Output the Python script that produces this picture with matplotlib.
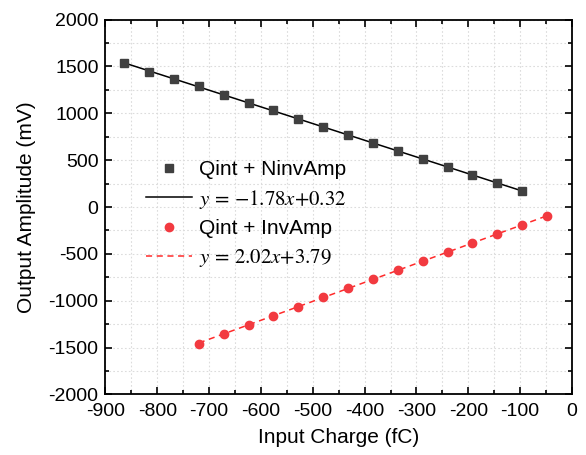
import numpy as np
import matplotlib
matplotlib.use('Agg')
import matplotlib.pyplot as plt
from matplotlib.ticker import MultipleLocator

# data
x_ninv = [-864, -816, -768, -720, -672, -624, -576, -528, -480, -432, -384, -336, -288, -240, -192, -144, -96]
y_ninv = [1533, 1445, 1364, 1287, 1196, 1115, 1030, 938, 851, 765, 680, 596, 511, 426, 341, 254, 172]
x_inv = [-720, -672, -624, -576, -528, -480, -432, -384, -336, -288, -240, -192, -144, -96, -48]
y_inv = [-1460, -1358, -1262, -1165, -1063, -965, -868, -771, -674, -578, -481, -384, -290, -196, -100]

fit_ninv = (-1.78, 0.32)
fit_inv = (2.02, 3.79)

plt.rcParams['font.family'] = ['Liberation Sans', 'DejaVu Sans']
plt.rcParams['mathtext.fontset'] = 'stix'
plt.rcParams['axes.unicode_minus'] = False

fig = plt.figure(figsize=(5.86, 4.55), dpi=100)
ax = fig.add_axes([0.180, 0.133, 0.796, 0.824])

xs = np.array([x_ninv[0], x_ninv[-1]])
ax.plot(x_ninv, y_ninv, 's', color='#404040', markersize=5.5, label='Qint + NinvAmp', zorder=3)
ax.plot(xs, fit_ninv[0] * xs + fit_ninv[1], '-', color='black', lw=1.1,
        label=r'$y\,=\,\mathrm{-1.78}x\mathrm{+0.32}$', zorder=2)
xs2 = np.array([x_inv[0], x_inv[-1]])
ax.plot(x_inv, y_inv, 'o', color='#f23a40', markersize=6, label='Qint + InvAmp', zorder=3)
ax.plot(xs2, fit_inv[0] * xs2 + fit_inv[1], '--', color='#ff2a2a', lw=1.1,
        dashes=(4, 3), label=r'$y\,=\,\mathrm{2.02}x\mathrm{+3.79}$', zorder=2)

ax.set_xlim(-900, 0)
ax.set_ylim(-2000, 2000)
ax.xaxis.set_major_locator(MultipleLocator(100))
ax.xaxis.set_minor_locator(MultipleLocator(50))
ax.yaxis.set_major_locator(MultipleLocator(500))
ax.yaxis.set_minor_locator(MultipleLocator(250))
ax.grid(True, which='both', color='#dcdcdc', linestyle=(0, (1.5, 2)), lw=0.8)
ax.set_axisbelow(True)
ax.tick_params(which='both', direction='in', top=True, right=True, labelsize=14, width=1.2)
ax.tick_params(axis='x', which='major', pad=6)
ax.tick_params(axis='y', which='major', pad=5)
ax.tick_params(which='major', length=5)
ax.tick_params(which='minor', length=3)
for s in ax.spines.values():
    s.set_linewidth(1.3)

ax.set_xlabel('Input Charge (fC)', fontsize=15, labelpad=6)
ax.set_ylabel('Output Amplitude (mV)', fontsize=15, labelpad=9)

ax.legend(loc='upper left', bbox_to_anchor=(0.07, 0.648), frameon=False, fontsize=15,
          handlelength=2.2, handletextpad=0.3, labelspacing=0.42, borderaxespad=0)

fig.savefig('out.png', dpi=100)
